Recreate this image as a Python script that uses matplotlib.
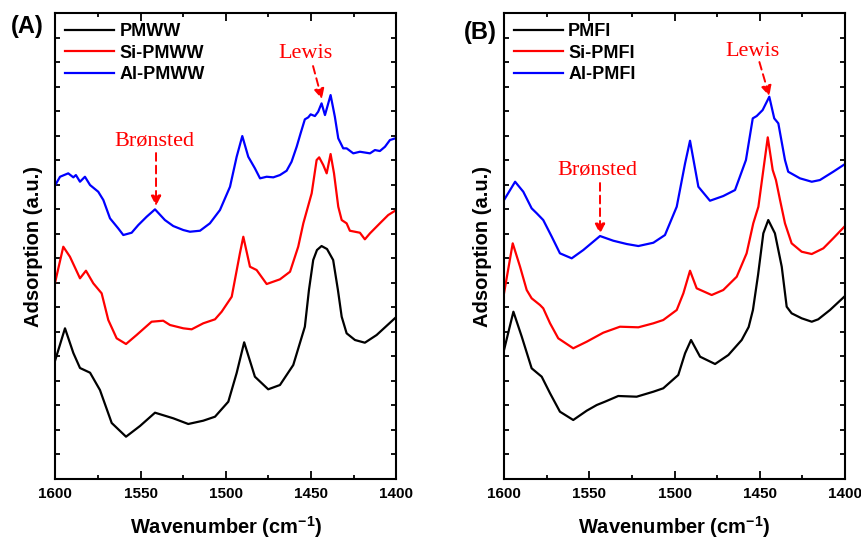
import numpy as np
import matplotlib
matplotlib.use('Agg')
import matplotlib.pyplot as plt
from matplotlib.ticker import MultipleLocator

plt.rcParams['font.family'] = ['Liberation Sans', 'DejaVu Sans']
plt.rcParams['mathtext.fontset'] = 'custom'
plt.rcParams['mathtext.bf'] = 'Liberation Sans:bold'
plt.rcParams['mathtext.rm'] = 'Liberation Sans'

# ---- panel A : PMWW series (wavenumber, absorbance a.u.) ----
wn_pmww = [1600, 1594.3, 1589.4, 1585.5, 1579.6, 1573.8, 1566.9, 1558.5, 1550.3, 1541.5,
           1530.8, 1522, 1513.2, 1506.3, 1498.5, 1493.6, 1489.2, 1482.9, 1475.1, 1468.2,
           1460.4, 1453.6, 1451.2, 1448.7, 1446.5, 1443.8, 1440.6, 1437, 1434.2, 1432,
           1429.1, 1424.2, 1418.4, 1411.5, 1400]
ab_pmww = [11.9, 15.07, 12.6, 11.1, 10.63, 8.9, 5.6, 4.23, 5.3, 6.63,
           6.07, 5.5, 5.83, 6.23, 7.73, 10.6, 13.67, 10.23, 8.97, 9.4,
           11.4, 15.23, 18.9, 21.9, 22.9, 23.3, 23.0, 21.9, 18.9, 16.23,
           14.57, 13.9, 13.63, 14.4, 16.2]

wn_si_pmww = [1600, 1595.3, 1591.4, 1585.5, 1582, 1577.7, 1572.8, 1568.9, 1564, 1558.5,
              1552.3, 1543.5, 1536.7, 1532.7, 1524.9, 1520, 1513.2, 1506.3, 1502.4, 1496.5,
              1491.7, 1489.7, 1485.8, 1481.9, 1476, 1468.2, 1462.3, 1457.5, 1454.5, 1449.6,
              1446.7, 1445.2, 1442.8, 1440.8, 1438.5, 1436.5, 1434, 1432, 1429.1, 1427.2,
              1421.3, 1418.4, 1415.4, 1409.6, 1404.7, 1400]
ab_si_pmww = [19.73, 23.23, 22.23, 20.07, 20.83, 19.57, 18.57, 15.9, 14.07, 13.5,
              14.4, 15.73, 15.83, 15.4, 15.07, 14.97, 15.57, 15.97, 16.73, 18.23,
              22.57, 24.23, 21.23, 20.9, 19.5, 19.97, 20.73, 23.23, 25.57, 28.57,
              31.9, 32.17, 31.4, 30.57, 32.5, 30.57, 27.23, 25.9, 25.57, 24.83,
              24.63, 23.97, 24.57, 25.57, 26.4, 26.9]

wn_al_pmww = [1600, 1597.2, 1592.4, 1589.4, 1587.9, 1585.5, 1582.6, 1579.6, 1574.8, 1571.8,
              1567.9, 1563.1, 1560.1, 1555.2, 1551.3, 1546.4, 1541.5, 1535.7, 1530.8, 1524.9,
              1521, 1515.1, 1509.3, 1503.4, 1497.5, 1493.6, 1490.3, 1486.8, 1482.9, 1479.9,
              1476, 1472.1, 1468.2, 1464.3, 1461.4, 1458.4, 1456.1, 1453.6, 1451.6, 1450.2,
              1447.7, 1445.8, 1443.8, 1441.8, 1438.5, 1436, 1434, 1431.1, 1429.1, 1425.2,
              1421.3, 1415.4, 1412.5, 1409.6, 1406.6, 1403.7, 1400]
ab_al_pmww = [29.4, 30.23, 30.57, 30.17, 30.4, 29.73, 30.23, 29.4, 28.73, 27.9,
              26.07, 25.07, 24.4, 24.63, 25.4, 26.23, 26.97, 25.9, 25.3, 24.9,
              24.73, 24.83, 25.57, 26.9, 29.23, 32.23, 34.3, 32.23, 31.07, 30.07,
              30.23, 30.17, 30.4, 30.83, 31.73, 33.23, 34.57, 35.97, 36.17, 36.47,
              36.3, 36.73, 37.57, 36.4, 38.4, 36.23, 34.07, 33.07, 33.07, 32.57,
              32.73, 32.57, 32.9, 32.8, 33.23, 33.9, 34.1]

# ---- panel B : PMFI series ----
wn_pmfi = [1600, 1594.5, 1589.6, 1583.8, 1577.9, 1573, 1567.2, 1559.4, 1551.5, 1545.6,
           1540.8, 1533, 1522.2, 1512.4, 1506.6, 1497.8, 1493.8, 1490.3, 1485, 1476.2,
           1468.4, 1460.6, 1456.5, 1454, 1451, 1447.9, 1445, 1441.1, 1437.1, 1434.2,
           1431.3, 1425.4, 1419.5, 1415.7, 1408.8, 1400]
ab_pmfi = [12.9, 16.73, 14.23, 11.07, 10.23, 8.57, 6.73, 5.9, 6.83, 7.4,
           7.73, 8.3, 8.23, 8.73, 9.07, 10.4, 12.57, 13.9, 12.23, 11.5,
           12.4, 13.9, 15.2, 16.9, 20.4, 24.57, 25.9, 24.57, 21.23, 17.23,
           16.57, 16.07, 15.73, 15.97, 16.9, 18.3]

wn_si_pmfi = [1600, 1594.9, 1590.6, 1586.7, 1583.8, 1578.9, 1577, 1573, 1568.2, 1559.4,
              1551.5, 1541.8, 1532, 1521.2, 1512.4, 1506.6, 1498.7, 1494.8, 1490.9, 1487,
              1478.2, 1471.4, 1463.5, 1457.7, 1453.8, 1450.8, 1447.9, 1445.3, 1442.4, 1440.5,
              1438.1, 1435.2, 1431.3, 1425.4, 1419.5, 1412.7, 1406.9, 1400]
ab_si_pmfi = [18.57, 23.57, 21.23, 18.9, 18.07, 17.4, 17.07, 15.57, 14.07, 13.07,
              13.73, 14.63, 15.23, 15.17, 15.57, 15.9, 16.9, 18.57, 20.83, 19.07,
              18.4, 18.9, 20.23, 22.57, 25.57, 27.23, 30.9, 34.17, 30.9, 29.9,
              27.9, 25.57, 23.57, 22.73, 22.5, 23.07, 24.07, 25.3]

wn_al_pmfi = [1600, 1593.5, 1588.7, 1583.8, 1580.8, 1577, 1572, 1567.2, 1560.3, 1553.5,
              1543.7, 1535.9, 1528, 1521.2, 1512.4, 1505.6, 1498.7, 1493.8, 1490.9, 1486,
              1479.2, 1471.4, 1464.5, 1458.1, 1454.1, 1451.8, 1448.3, 1444.4, 1441.5, 1439.1,
              1435.2, 1433.3, 1426.4, 1419.5, 1414.7, 1406.9, 1400]
ab_al_pmfi = [27.9, 29.73, 28.73, 27.07, 26.57, 25.9, 24.23, 22.57, 22.07, 22.9,
              24.3, 23.83, 23.5, 23.3, 23.63, 24.4, 27.23, 31.57, 33.83, 29.23,
              27.83, 28.3, 28.9, 31.9, 36.07, 36.3, 36.9, 38.23, 36.07, 35.57,
              31.9, 30.73, 30.07, 29.73, 29.9, 30.73, 31.5]

fig = plt.figure(figsize=(8.61, 5.38), dpi=100)
ax1 = fig.add_axes([0.0642, 0.1097, 0.396, 0.866])
ax2 = fig.add_axes([0.5854, 0.1097, 0.396, 0.866])

lw = 1.6
kw = dict(lw=lw, solid_joinstyle='round')
ax1.plot(wn_pmww, ab_pmww, color='black', label='PMWW', **kw)
ax1.plot(wn_si_pmww, ab_si_pmww, color='#ff0000', label='Si-PMWW', **kw)
ax1.plot(wn_al_pmww, ab_al_pmww, color='#0000ff', label='Al-PMWW', **kw)

ax2.plot(wn_pmfi, ab_pmfi, color='black', label='PMFI', **kw)
ax2.plot(wn_si_pmfi, ab_si_pmfi, color='#ff0000', label='Si-PMFI', **kw)
ax2.plot(wn_al_pmfi, ab_al_pmfi, color='#0000ff', label='Al-PMFI', **kw)


def note(ax, text, txy, start, tip):
    ax.text(txy[0], txy[1], text, color='#ff0000', fontsize=16,
            family='Liberation Serif', ha='center', va='center')
    ax.annotate('', xy=tip, xytext=start,
                arrowprops=dict(arrowstyle='-|>,head_length=0.6,head_width=0.3',
                                color='#ff0000', lw=1.4, linestyle=(0, (4, 2.5)),
                                shrinkA=0, shrinkB=0))


note(ax1, 'Lewis', (1453, 42.6), (1448.8, 41.3), (1443.6, 38.0))
note(ax1, 'Brønsted', (1542.1, 33.8), (1540.9, 32.6), (1540.9, 27.3))
note(ax2, 'Lewis', (1454.5, 42.8), (1450.2, 41.7), (1444.4, 38.3))
note(ax2, 'Brønsted', (1545.5, 30.9), (1543.7, 29.6), (1543.7, 24.5))

for ax in (ax1, ax2):
    ax.set_xlim(1600, 1400)
    ax.set_ylim(0, 46.6)
    ax.xaxis.set_major_locator(MultipleLocator(50))
    ax.xaxis.set_minor_locator(MultipleLocator(25))
    ax.set_yticks(np.linspace(0, 46.6, 20))
    ax.set_yticklabels([])
    ax.tick_params(axis='x', which='major', direction='in', length=6, width=1.3,
                   top=True, labelsize=11, pad=6)
    ax.tick_params(axis='x', which='minor', direction='in', length=3, width=1.3, top=True)
    ax.tick_params(axis='y', direction='in', length=3.5, width=1.3, right=True)
    for lab in ax.get_xticklabels():
        lab.set_fontweight('bold')
    for sp in ax.spines.values():
        sp.set_linewidth(1.5)
    ax.set_xlabel('Wavenumber (cm$^{\\mathbf{-1}}$)', fontsize=14.5, fontweight='bold',
                  labelpad=9)
    ax.set_ylabel('Adsorption (a.u.)', fontsize=14.5, fontweight='bold', labelpad=5)
    ax.legend(loc='upper left', frameon=False, handlelength=2.7, handletextpad=0.3,
              labelspacing=0.25, borderaxespad=0.2, borderpad=0.35,
              prop={'weight': 'bold', 'size': 13})

fig.text(27.5 / 861, 1 - 26 / 538, '(A)', fontsize=17, fontweight='bold',
         ha='center', va='center')
fig.text(480 / 861, 1 - 32 / 538, '(B)', fontsize=17, fontweight='bold',
         ha='center', va='center')

fig.savefig('out.png', dpi=100)
